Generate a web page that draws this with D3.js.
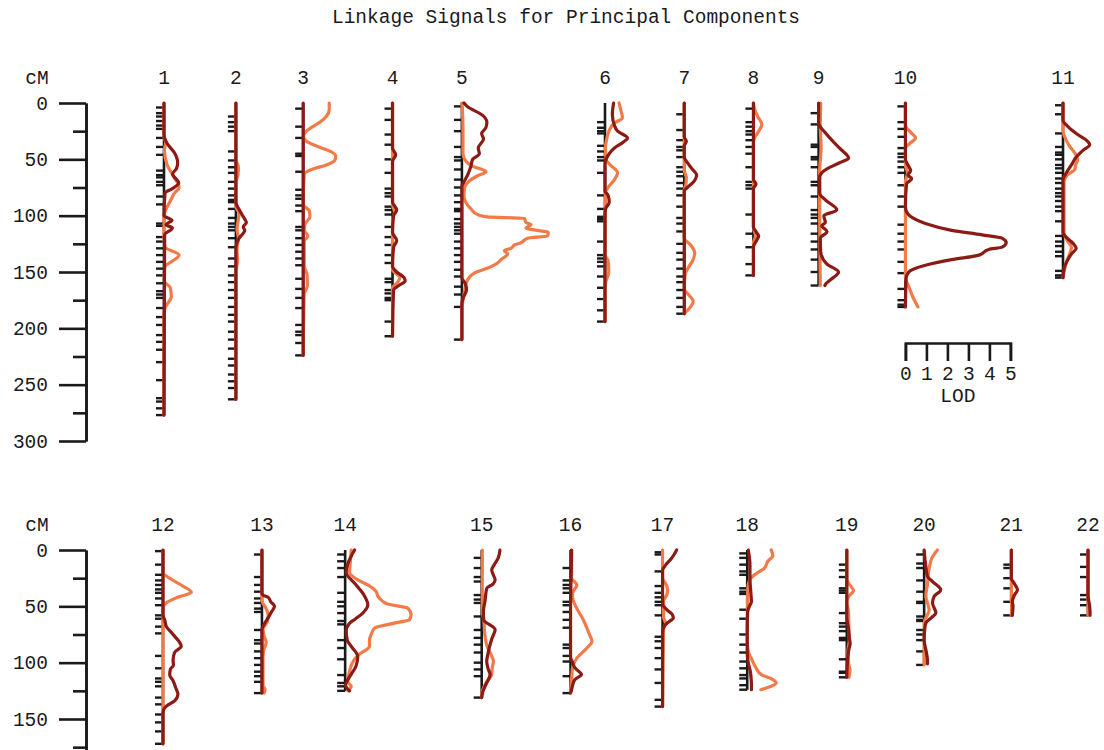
<!DOCTYPE html>
<html>
<head>
<meta charset="utf-8">
<script src="https://cdn.jsdelivr.net/npm/d3@7"></script>
<style>
  html, body { margin: 0; padding: 0; background: #fff; }
  svg { display: block; font-family: "Liberation Mono", "DejaVu Sans Mono", monospace; }
</style>
</head>
<body>
<svg id="chart" width="1104" height="750"></svg>
<script>
// ---- data -------------------------------------------------------------
const chartTitle = "Linkage Signals for Principal Components";
const chromosomes = ["1","2","3","4","5","6","7","8","9","10","11",
                     "12","13","14","15","16","17","18","19","20","21","22"];

// genetic map: marker positions (cM); the last marker closes each chromosome
const markers = [
  [4,9,12,16,20,23,31,39,46,60,64,66,70,73,83,90,107,109,119,123,129,135,141,147,153,160,167,170,173,182,190,197,206,212,219,230,246,262,265,271,277],
  [12,17,21,25,43,51,57,62,70,76,82,86,88,94,102,107,110,113,120,128,138,145,153,159,166,173,181,188,194,203,210,218,227,233,241,247,253,263],
  [5,21,31,45,47,61,77,82,85,91,96,110,113,120,126,132,138,144,156,165,173,182,197,203,206,213,224],
  [5,15,28,37,50,62,76,80,83,92,95,99,110,119,126,135,142,156,159,166,169,173,175,194,207],
  [3,15,25,39,48,51,59,68,75,82,88,94,96,103,107,110,113,116,123,129,135,141,148,154,163,170,181,210],
  [17,22,25,27,38,43,48,51,62,82,94,101,103,105,123,135,138,141,145,154,164,174,184,194],
  [10,24,33,39,42,48,57,61,65,71,76,82,92,102,107,114,125,133,139,147,154,159,166,173,181,187],
  [5,17,21,25,28,33,39,45,57,70,73,76,99,116,128,143,153],
  [9,19,37,39,48,50,57,70,73,83,95,99,102,107,116,123,130,139,150,162],
  [3,17,23,30,40,45,48,52,57,62,73,83,92,108,116,123,130,141,151,165,175,179,181],
  [2,10,27,39,44,46,50,55,58,62,67,71,76,80,83,87,92,96,105,118,123,127,132,136,149,153,155],
  [1,13,22,27,31,35,38,43,49,58,61,68,74,94,105,114,117,121,131,137,146,153,161,172],
  [4,24,31,37,43,47,52,55,71,80,83,90,96,102,108,112,117,127],
  [4,10,16,24,38,46,50,56,63,66,80,87,97,111,118,121,125],
  [7,16,24,28,40,44,47,59,71,78,84,91,100,106,112,131],
  [16,27,31,34,38,46,49,55,62,69,84,87,94,99,112,127],
  [2,4,19,32,38,42,46,49,58,77,81,87,96,106,118,133,139],
  [3,7,13,19,22,34,37,39,53,61,75,84,91,99,105,111,114,120,124],
  [13,18,24,34,36,38,56,65,68,72,78,80,97,108,109,113],
  [4,12,16,27,37,46,47,59,62,63,71,75,80,90,102],
  [13,16,25,34,46,58],
  [4,15,24,40,44,49,58]
];

// LOD profile of the first principal component: [cM, LOD]
const lodPC1 = [
  [[0,0],[28,0],[36,0.15],[44,0.49],[53,0.65],[58,0.6],[63,0.41],[71,0.7],[76,0.4],[80,0.05],[100,0],[104,0.38],[108,0.1],[111,0.4],[117,0.03],[277,0]],
  [[0,0],[88,0],[96,0.2],[101,0.35],[106,0.5],[110,0.35],[113,0.42],[120,0.15],[128,0],[263,0]],
  [[0,0],[224,0]],
  [[0,0],[40,0],[46,0.15],[52,0],[88,0],[95,0.2],[100,0.05],[115,0],[122,0.2],[128,0.05],[145,0],[150,0.2],[155,0.55],[158,0.6],[162,0.3],[166,0.05],[207,0]],
  [[0,0.1],[3,0.25],[11,0.99],[17,1.19],[22,1.14],[27,0.94],[32,1.03],[40,0.78],[45,0.83],[50,0.51],[56,0.43],[64,0.27],[70,0.1],[74,0],[155,0],[160,0.15],[166,0.22],[172,0.08],[178,0],[210,0]],
  [[0,0.41],[10,0.35],[20,0.45],[25,0.6],[31,1.07],[35,0.85],[40,0.45],[45,0.2],[50,0.05],[55,0],[78,0],[82,0.15],[88,0.2],[93,0.05],[98,0],[194,0]],
  [[0,0],[30,0],[34,0.1],[38,0],[48,0],[53,0.15],[58,0.35],[64,0.59],[70,0.45],[75,0.15],[78,0],[187,0]],
  [[0,0],[68,0],[72,0.12],[76,0],[110,0],[115,0.15],[118,0.25],[122,0.15],[128,0],[153,0]],
  [[0,0],[18,0],[26,0.3],[33,0.63],[41,1.05],[49,1.43],[53,1.0],[57,0.55],[62,0.15],[66,0.05],[80,0.05],[86,0.32],[95,0.87],[100,0.25],[106,0.32],[109,0.15],[114,0.4],[120,0.08],[132,0.1],[143,0.4],[150,0.95],[157,0.56],[161,0.32],[162,0.3]],
  [[0,0],[50,0],[56,0.15],[60,0.25],[64,0.12],[67,0.3],[72,0.05],[92,0],[98,0.1],[102,0.35],[107,0.95],[113,2.2],[117,3.65],[120,4.6],[124,4.8],[128,4.6],[130,3.97],[135,3.5],[139,2.2],[144,0.95],[150,0.16],[156,0.03],[181,0]],
  [[0,0],[15,0],[21,0.24],[28,0.7],[33,1.11],[37,1.27],[42,0.95],[48,0.63],[55,0.4],[62,0.16],[68,0],[115,0],[120,0.2],[125,0.5],[129,0.63],[134,0.4],[140,0.2],[147,0.05],[155,0]],
  [[0,0],[58,0],[62,0.08],[68,0.16],[75,0.48],[85.5,0.87],[91,0.55],[98,0.48],[102,0.5],[106,0.35],[111,0.32],[116,0.48],[122,0.6],[128,0.71],[134,0.55],[138,0.2],[141,0.05],[145,0],[172,0]],
  [[0,0],[38,0],[40,0.05],[42,0.3],[46,0.42],[50,0.6],[55,0.45],[60,0.3],[66,0.1],[71,0],[127,0]],
  [[0,0.45],[5,0.3],[12,0.13],[20,0.05],[29.5,0.45],[35,0.7],[41,0.93],[48.7,1.08],[56,0.84],[61,0.5],[65,0.21],[72,0.05],[80,0.1],[85.5,0.29],[94.4,0.6],[103,0.52],[110,0.3],[115,0.13],[120,0.02],[125,0.21]],
  [[0,0.87],[7,0.79],[13,0.6],[17.7,0.48],[22,0.55],[26.5,0.64],[30,0.55],[34,0.24],[45,0.16],[55,0.08],[62,0.1],[70.8,0.64],[78,0.5],[84,0.4],[92,0.3],[98.8,0.24],[105,0.3],[110.6,0.4],[118,0.24],[126,0.05],[131,0]],
  [[0,0.05],[20,0.03],[50,0],[95,0],[100,0.1],[104.7,0.21],[110.6,0.52],[115,0.21],[120,0.1],[124,0.05],[127,0]],
  [[0,0.67],[4,0.55],[8,0.4],[13,0.16],[18,0],[48,0],[53,0.2],[57,0.45],[60.5,0.51],[63,0.35],[66,0.15],[72,0],[139,0]],
  [[0,0.05],[13,0.13],[25,0.13],[40,0.18],[46,0.2],[50,0.1],[55,0.02],[70,0],[90,0],[100,0.05],[108,0.15],[115,0.19],[120,0.2],[124,0.2]],
  [[0,0],[60,0],[70,0.08],[78,0.12],[83,0.16],[88,0.1],[95,0.05],[113,0]],
  [[0,0],[10,0.05],[17,0.1],[23.6,0.16],[28,0.4],[35.4,0.79],[41,0.48],[47,0.4],[56,0.56],[60,0.35],[64.9,0.08],[70,0.03],[79.6,0],[90,0.1],[98,0.16],[101,0.16]],
  [[0,0],[25,0],[30,0.15],[35.4,0.29],[40,0.15],[45.7,0.05],[50,0.08],[58,0.05]],
  [[0,0],[40,0],[50,0.08],[57,0.1],[58,0.1]]
];

// LOD profile of the second principal component: [cM, LOD]
const lodPC2 = [
  [[0,0],[30,0],[35,0.08],[42,0.02],[55,0.15],[65,0.45],[75,0.72],[80,0.5],[87,0.3],[95,0.08],[100,0],[120,0],[128,0.05],[135,0.72],[146,0.03],[158,0],[164,0.3],[172,0.35],[180,0.1],[186,0],[277,0]],
  [[0,0],[50,0],[57,0.12],[64,0.1],[70,0],[92,0],[98,0.15],[105,0.1],[112,0.05],[120,0.12],[130,0.05],[140,0.08],[150,0],[263,0]],
  [[0,1.24],[6,1.24],[12,1.1],[17,0.8],[21,0.45],[25,0.15],[30,0.02],[34,0.15],[38,0.6],[43,1.3],[47,1.55],[51,1.5],[55,1.1],[59,0.4],[63,0.05],[90,0],[96,0.3],[101,0.32],[107,0.1],[113,0.05],[118,0.22],[123,0.05],[145,0.05],[152,0.18],[162,0.2],[170,0.05],[224,0]],
  [[0,0],[90,0],[97,0.1],[103,0],[148,0],[155,0.35],[160,0.2],[164,0],[207,0]],
  [[0,0],[20,0.05],[45,0.05],[52,0.2],[56,0.5],[61,1.15],[65,0.7],[70,0.3],[76,0.12],[83,0.1],[90,0.25],[94,0.43],[99,0.75],[101,1.2],[102.5,2.98],[106,3.05],[108,3.29],[111,3.05],[115,4.11],[118,4.08],[120,3.13],[124,2.81],[126,2.5],[129,2.34],[131,2.02],[134,2.18],[139,1.86],[142,1.7],[146,1.3],[151,0.59],[157,0.27],[165,0.15],[175,0.05],[182,0],[210,0]],
  [[0,0.67],[6,0.75],[13,0.83],[18,0.43],[25,0.19],[32,0.08],[40,0.02],[50,0.05],[55,0.25],[62,0.6],[68,0.45],[75,0.15],[80,0.02],[135,0],[140,0.15],[150,0.18],[158,0.05],[165,0],[194,0]],
  [[0,0],[60,0],[66,0.1],[72,0.08],[78,0],[120,0],[126,0.3],[133,0.5],[140,0.4],[146,0.2],[152,0.05],[165,0],[170,0.2],[176,0.43],[181,0.3],[186,0.05],[187,0]],
  [[0,0],[5,0.05],[12,0.2],[19,0.4],[25,0.25],[31,0.05],[36,0],[110,0],[118,0.1],[124,0],[153,0]],
  [[0,0.1],[20,0.08],[40,0.12],[60,0.05],[100,0.05],[162,0.08]],
  [[0,0],[20,0],[26,0.25],[31,0.48],[36,0.2],[40,0],[55,0],[62,0.1],[70,0],[155,0],[163,0.16],[172,0.35],[181,0.6]],
  [[0,0],[25,0],[30,0.08],[38,0.3],[44,0.55],[50,0.7],[55,0.6],[59,0.56],[64,0.2],[70,0.05],[115,0.05],[122,0.2],[128,0.4],[135,0.3],[142,0.15],[150,0.05],[155,0]],
  [[0,0],[20,0],[26,0.4],[32,0.95],[37.5,1.35],[42,0.7],[47,0.15],[52,0],[172,0]],
  [[0,0],[45,0],[52,0.2],[58,0.3],[64,0.25],[70,0.05],[76,0.1],[82,0.2],[88,0.1],[95,0.05],[120,0.05],[124,0.15],[127,0.1]],
  [[0,0.29],[10,0.25],[20,0.21],[26.5,0.6],[31,1.08],[37,1.48],[41,1.56],[45.7,1.8],[48,2.03],[51.6,2.98],[57.5,3.14],[61.9,3.06],[64.9,2.35],[69.3,1.4],[75,1.24],[79.6,1.16],[85.5,1.16],[92.9,0.65],[98,0.41],[107.6,0.21],[117,0.13],[121,0.29],[125,0.13]],
  [[0,0.03],[55,0.03],[62,0.1],[75,0.15],[85,0.25],[93,0.45],[98.8,0.56],[105,0.5],[110.6,0.48],[118,0.2],[124,0.05],[131,0]],
  [[0,0.05],[25,0.05],[31,0.3],[36,0.15],[40,0.08],[46,0.15],[52,0.3],[60,0.55],[69.3,0.78],[75,0.9],[81,1.02],[87,0.78],[96,0.3],[104,0.1],[115,0.05],[127,0]],
  [[0,0],[25,0],[30,0.15],[35,0.24],[40,0.2],[45,0.05],[60,0.05],[65,0.15],[70,0.05],[139,0]],
  [[0,1.14],[5,1.22],[10,0.98],[16,0.82],[22,0.35],[27,0.11],[35,0.02],[80,0],[90,0.05],[96,0.19],[104,0.4],[110.6,0.67],[115,1.22],[118,1.38],[121,1.14],[124,0.65]],
  [[0,0],[25,0],[30,0.1],[36,0.32],[41,0.1],[46,0],[55,0.08],[70,0.1],[80,0.12],[90,0.05],[100,0.08],[107,0.15],[113,0.1]],
  [[0,0.63],[6,0.4],[16,0.24],[30,0.16],[41,0.08],[47,0.16],[53,0.24],[58,0.15],[63,0.02],[102,0]],
  [[0,0],[45,0],[52,0.02],[58,0]],
  [[0,0],[58,0]]
];

const cmMajorTicks = [0, 50, 100, 150, 200, 250, 300];
const cmMinorTicks = [25, 75, 125, 175, 225, 275];
const lodTicks = [0, 1, 2, 3, 4, 5];

// ---- layout -----------------------------------------------------------
const FONT = 19.5;
const pxPerLOD = 21;
const colPC1 = "#8b1b14";
const colPC2 = "#f27a48";
const ink = "#1a1a1a";

// the lower row's axis runs on past the bottom edge of the page
const rows = [
  { members: d3.range(0, 11),  top: 103, axisMax: 300, labelMax: 300, labelY: 84,  xStart: 164, xEnd: 1063 },
  { members: d3.range(11, 22), top: 550, axisMax: 200, labelMax: 150, labelY: 531, xStart: 163, xEnd: 1088 }
];
const pxPerCM = 338 / 300;

const svg = d3.select("#chart");
const lod = d3.scaleLinear().domain([0, 5]).range([0, 5 * pxPerLOD]);

// title
svg.append("text")
  .attr("x", 566).attr("y", 23)
  .attr("text-anchor", "middle")
  .attr("font-size", FONT).attr("fill", ink)
  .text(chartTitle);

const maxLod = chromosomes.map((c, i) =>
  d3.max(lodPC1[i].concat(lodPC2[i]), d => d[1]));

const chromX = new Array(chromosomes.length);

rows.forEach(row => {
  const y = d3.scaleLinear().domain([0, 300]).range([row.top, row.top + 300 * pxPerCM]);

  // spread chromosomes so each leaves room for its highest LOD peak
  const m = row.members;
  const peakRoom = d3.sum(m.slice(0, -1), i => lod(maxLod[i]));
  const pad = (row.xEnd - row.xStart - peakRoom) / (m.length - 1);
  let x = row.xStart;
  m.forEach(i => { chromX[i] = x; x += pad + lod(maxLod[i]); });

  // cM axis
  const axisScale = y.copy().domain([0, row.axisMax]).range([row.top, y(row.axisMax)]);
  const gAxis = svg.append("g").attr("transform", "translate(86,0)").attr("color", ink);
  gAxis.append("g")
    .call(d3.axisLeft(axisScale).tickValues(cmMinorTicks.filter(t => t <= row.axisMax))
      .tickSize(13).tickSizeOuter(0).tickFormat(""));
  gAxis.append("g")
    .call(d3.axisLeft(axisScale).tickValues(cmMajorTicks.filter(t => t <= row.labelMax))
      .tickSize(27).tickSizeOuter(0).tickPadding(11).tickFormat(d3.format("d")));
  gAxis.selectAll("path, line").attr("stroke-width", 2.6).attr("stroke", ink);
  gAxis.selectAll("text").attr("font-size", FONT).attr("font-family", "Liberation Mono, monospace");

  svg.append("text")
    .attr("x", 37).attr("y", row.labelY)
    .attr("text-anchor", "middle")
    .attr("font-size", FONT).attr("fill", ink)
    .text("cM");

  // chromosomes
  m.forEach(i => {
    const cx = chromX[i];
    const len = d3.max(markers[i]);
    const g = svg.append("g").attr("class", "chrom");

    g.append("text")
      .attr("x", cx).attr("y", row.labelY)
      .attr("text-anchor", "middle")
      .attr("font-size", FONT).attr("fill", ink)
      .text(chromosomes[i]);

    g.append("line")
      .attr("x1", cx).attr("x2", cx)
      .attr("y1", y(0)).attr("y2", y(len))
      .attr("stroke", ink).attr("stroke-width", 2.6);

    g.selectAll("line.marker").data(markers[i]).join("line")
      .attr("class", "marker")
      .attr("x1", cx - 8).attr("x2", cx)
      .attr("y1", d => y(d)).attr("y2", d => y(d))
      .attr("stroke", ink).attr("stroke-width", 2.4);

    const line = d3.line()
      .x(d => cx + lod(d[1]))
      .y(d => y(d[0]))
      .curve(d3.curveMonotoneY);

    g.append("path").attr("d", line(lodPC2[i]))
      .attr("fill", "none").attr("stroke", colPC2)
      .attr("stroke-width", 3.2).attr("stroke-linejoin", "round").attr("stroke-linecap", "round");
    g.append("path").attr("d", line(lodPC1[i]))
      .attr("fill", "none").attr("stroke", colPC1)
      .attr("stroke-width", 3.2).attr("stroke-linejoin", "round").attr("stroke-linecap", "round");
  });
});

// LOD scale bar, anchored beneath chromosome 10
const legendX = chromX[9];
const gLod = svg.append("g").attr("transform", `translate(${legendX},343)`).attr("color", ink)
  .call(d3.axisBottom(lod).tickValues(lodTicks).tickSize(18).tickSizeOuter(18)
    .tickPadding(5).tickFormat(d3.format("d")));
gLod.selectAll("path, line").attr("stroke-width", 2.6).attr("stroke", ink);
gLod.selectAll("text").attr("font-size", FONT).attr("font-family", "Liberation Mono, monospace");
svg.append("text")
  .attr("x", legendX + lod(2.5)).attr("y", 402)
  .attr("text-anchor", "middle")
  .attr("font-size", FONT).attr("fill", ink)
  .text("LOD");
</script>
</body>
</html>
